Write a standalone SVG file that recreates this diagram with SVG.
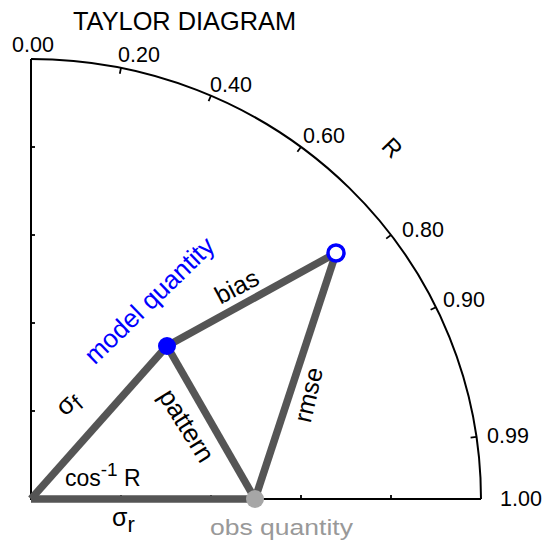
<svg xmlns="http://www.w3.org/2000/svg" width="546" height="540" viewBox="0 0 546 540">
<style>
text{font-family:"Liberation Sans",Arial,sans-serif;fill:#000}
.ax{fill:none;stroke:#000;stroke-width:2}
.tk{stroke:#000;stroke-width:1.8}
.lbl{font-size:21.5px}
.seg{stroke:#555;stroke-width:7.5;stroke-linecap:butt}
.big{font-size:25px}
</style>
<rect width="546" height="540" fill="#fff"/>
<g id="axes">
<path class="ax" d="M31,59 L31,499 L481,499"/>
<path class="ax" d="M31,59 A450,440 0 0 1 481,499"/>
<line class="tk" x1="31" y1="147" x2="35" y2="147"/>
<line class="tk" x1="31" y1="235" x2="35" y2="235"/>
<line class="tk" x1="31" y1="323" x2="35" y2="323"/>
<line class="tk" x1="31" y1="411" x2="35" y2="411"/>
<line class="tk" x1="121" y1="499" x2="121" y2="495"/>
<line class="tk" x1="211" y1="499" x2="211" y2="495"/>
<line class="tk" x1="301" y1="499" x2="301" y2="495"/>
<line class="tk" x1="391" y1="499" x2="391" y2="495"/>
<line class="tk" x1="121" y1="67.9" x2="119.8" y2="73.8"/>
<line class="tk" x1="211" y1="95.7" x2="208.6" y2="101.2"/>
<line class="tk" x1="301" y1="147" x2="297.4" y2="151.8"/>
<line class="tk" x1="391" y1="235" x2="386.2" y2="238.6"/>
<line class="tk" x1="436" y1="307.2" x2="430.6" y2="309.8"/>
<line class="tk" x1="476.5" y1="436.9" x2="470.6" y2="437.7"/>
<text x="73" y="30" font-size="25" textLength="223" lengthAdjust="spacingAndGlyphs">TAYLOR DIAGRAM</text>
<text class="lbl" x="12" y="52">0.00</text>
<text class="lbl" x="118" y="62">0.20</text>
<text class="lbl" x="210" y="92">0.40</text>
<text class="lbl" x="303" y="143">0.60</text>
<text class="lbl" x="402" y="237">0.80</text>
<text class="lbl" x="443" y="307">0.90</text>
<text class="lbl" x="487" y="443">0.99</text>
<text class="lbl" x="500" y="506">1.00</text>
<text transform="translate(392,148) rotate(46)" text-anchor="middle" y="8" font-size="24">R</text>
</g>
<g id="connectors">
<line class="seg" x1="31" y1="499" x2="255" y2="499"/>
<line class="seg" x1="31" y1="499" x2="167" y2="346"/>
<line class="seg" x1="167" y1="346" x2="336" y2="253"/>
<line class="seg" x1="167" y1="346" x2="255" y2="499"/>
<line class="seg" x1="336" y1="253" x2="255" y2="499"/>
<text class="big" transform="translate(237,287) rotate(-28)" text-anchor="middle" y="8">bias</text>
<text transform="translate(186,426) rotate(58)" text-anchor="middle" y="8" font-size="26">pattern</text>
<text class="big" transform="translate(309,395) rotate(-77)" text-anchor="middle" y="8">rmse</text>
<text transform="translate(65,417) rotate(-42)" font-size="26">σ<tspan dy="5" font-size="22">f</tspan></text>
<text x="112" y="526" font-size="25">σ<tspan dy="6" font-size="22">r</tspan></text>
<text x="65" y="486" font-size="23">cos<tspan dy="-10" font-size="19">-1</tspan><tspan dy="10"> R</tspan></text>
</g>
<g id="model">
<circle cx="167" cy="346" r="9" fill="#0000ff"/>
<text transform="translate(150,301) rotate(-44)" text-anchor="middle" y="8" font-size="26" style="fill:#0000ff">model quantity</text>
</g>
<g id="model-open">
<circle cx="336" cy="253" r="8" fill="#fff" stroke="#0000ff" stroke-width="3.5"/>
</g>
<g id="obs">
<circle cx="255" cy="499" r="9" fill="#a6a6a6"/>
<text x="210" y="535" font-size="22" textLength="143" lengthAdjust="spacingAndGlyphs" style="fill:#999">obs quantity</text>
</g>
</svg>
